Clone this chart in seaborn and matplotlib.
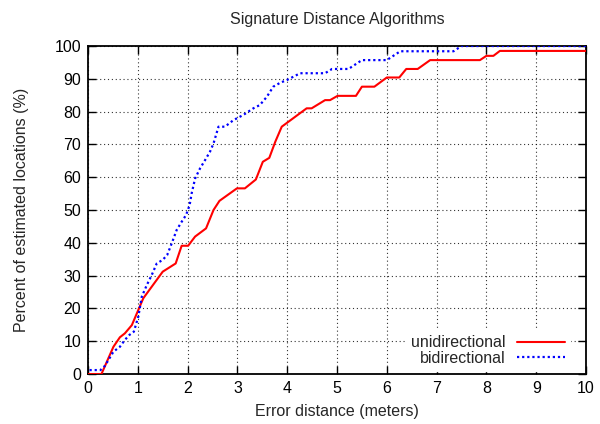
import matplotlib
matplotlib.use("Agg")
import matplotlib.pyplot as plt
import seaborn as sns
import pandas as pd

# ---- data ----
uni_x = [0.0, 0.27, 0.51, 0.64, 0.74, 0.88, 1.11, 1.5, 1.76, 1.88, 2.01, 2.15, 2.37, 2.52,
         2.64, 2.99, 3.15, 3.37, 3.51, 3.64, 3.76, 3.89, 4.39, 4.49, 4.76, 4.86, 5.01, 5.38,
         5.5, 5.75, 6.0, 6.25, 6.39, 6.62, 6.87, 7.87, 8.0, 8.14, 8.27, 10.0]
uni_y = [0.0, 0.0, 8.3, 11.2, 12.4, 14.9, 23.1, 31.2, 33.7, 39.1, 39.1, 41.9, 44.4, 50.0,
         52.8, 56.6, 56.6, 59.3, 64.7, 65.9, 70.8, 75.4, 81.0, 81.0, 83.5, 83.5, 84.8, 84.8,
         87.6, 87.6, 90.4, 90.4, 93.0, 93.0, 95.7, 95.7, 97.0, 97.0, 98.5, 98.5]

bi_x = [0.03, 0.25, 0.34, 0.51, 0.64, 0.74, 0.83, 0.92, 1.01, 1.08, 1.18, 1.28, 1.38, 1.5,
        1.59, 1.68, 1.78, 1.88, 1.97, 2.04, 2.08, 2.15, 2.25, 2.35, 2.45, 2.52, 2.62, 2.75,
        2.92, 3.12, 3.32, 3.45, 3.59, 3.72, 3.86, 3.99, 4.26, 4.76, 4.9, 5.23, 5.5, 6.0,
        6.27, 7.34, 7.5, 10.0]
bi_y = [1.2, 1.2, 2.5, 6.8, 8.3, 10.4, 11.9, 12.9, 17.5, 23.6, 27.1, 30.2, 33.7, 34.8,
        36.3, 39.8, 43.9, 46.4, 48.5, 51.5, 55.0, 59.6, 62.7, 65.2, 67.8, 70.3, 75.4, 75.4,
        77.4, 79.0, 81.0, 82.0, 84.5, 87.6, 88.8, 89.6, 91.7, 91.7, 93.0, 93.0, 95.7, 95.7,
        98.4, 98.4, 100.0, 100.0]

x_ticks = list(range(0, 11))
y_ticks = list(range(0, 101, 10))

title = "Signature Distance Algorithms"
x_label = "Error distance (meters)"
y_label = "Percent of estimated locations (%)"

# ---- plotting ----
sns.set_style("white")
plt.rcParams["font.family"] = ["Liberation Sans", "DejaVu Sans"]
fs = 11.5

fig = plt.figure(figsize=(6.0, 4.24), dpi=100)
ax = fig.add_axes([0.1467, 0.1179, 0.83, 0.7736])

df_u = pd.DataFrame({"x": uni_x, "y": uni_y})
df_b = pd.DataFrame({"x": bi_x, "y": bi_y})

sns.lineplot(data=df_u, x="x", y="y", ax=ax, color="#ff0000", lw=1.5,
             estimator=None, sort=False, label="unidirectional", zorder=3)
sns.lineplot(data=df_b, x="x", y="y", ax=ax, color="#0000ff", lw=1.6,
             estimator=None, sort=False, label="bidirectional", zorder=3,
             linestyle=(0, (1, 1.3)))

ax.set_xlim(0, 10)
ax.set_ylim(0, 100)
ax.set_xticks(x_ticks)
ax.set_yticks(y_ticks)
ax.set_xticklabels([str(t) for t in x_ticks], fontsize=fs)
ax.set_yticklabels([str(t) for t in y_ticks], fontsize=fs)
ax.tick_params(direction="in", length=6, width=1, top=True, right=True,
               bottom=True, left=True, pad=5, colors="black")
ax.grid(True, color="black", linestyle=(0, (1, 2.5)), linewidth=0.8, alpha=0.8)
ax.set_axisbelow(True)
for sp in ax.spines.values():
    sp.set_visible(True)
    sp.set_color("black")
    sp.set_linewidth(1.3)

ax.set_title(title, fontsize=fs, pad=16)
ax.set_xlabel(x_label, fontsize=fs, labelpad=6)
ax.set_ylabel(y_label, fontsize=fs, labelpad=18)

leg = ax.legend(loc="lower right", bbox_to_anchor=(0.974, 0.0), markerfirst=False,
                frameon=True, fontsize=fs, handlelength=3.0, handletextpad=0.7,
                borderpad=0.3, labelspacing=0.05, borderaxespad=0.2)
leg.get_frame().set_facecolor("white")
leg.get_frame().set_edgecolor("white")
leg.get_frame().set_alpha(1.0)
leg.get_frame().set_boxstyle("square", pad=0)

fig.savefig("out.png", dpi=100)
